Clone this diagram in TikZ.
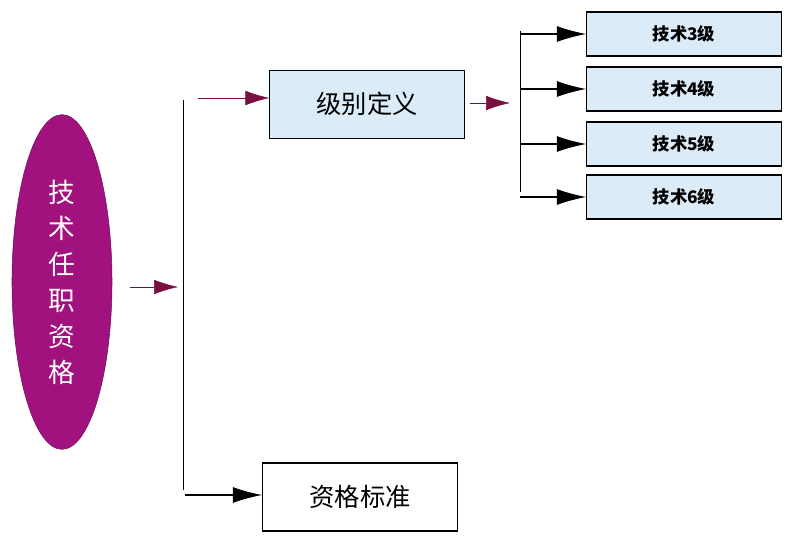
\documentclass[tikz,border=0pt]{standalone}
\usepackage{fontspec}
\setmainfont{Noto Sans CJK SC}
\usetikzlibrary{shapes.geometric,arrows.meta}
\definecolor{plum}{HTML}{A2127F}
\definecolor{wine}{HTML}{7A1040}
\definecolor{paleblue}{HTML}{DCEBF8}
\begin{document}
\begin{tikzpicture}[x=0.75pt,y=-0.75pt,
    mainnode/.style={ellipse, fill=plum, draw=plum!70!black, minimum width=75pt, minimum height=251pt, text=white, font=\fontsize{20}{27}\selectfont, align=center},
    bluenode/.style={rectangle, draw, fill=paleblue, minimum width=146pt, minimum height=51pt, font=\fontsize{19}{22}\selectfont},
    levelnode/.style={rectangle, draw, fill=paleblue, thick, minimum width=146pt, minimum height=33pt, font=\bfseries\fontsize{13}{15}\selectfont},
    whitenode/.style={rectangle, draw, thick, fill=white, minimum width=146pt, minimum height=51pt, font=\fontsize{19}{22}\selectfont},
    redarrow/.style={draw=wine, -{Latex[length=18pt,width=11pt]}},
    blackarrow/.style={draw=black, thick, -{Latex[length=22pt,width=12pt]}},
  ]
  \useasboundingbox (0,0) rectangle (800,545);
  %Nodes
  \node[mainnode] (root) at (62,282) {技\\术\\任\\职\\资\\格};
  \node[bluenode] (def) at (367,104) {级别定义};
  \node[whitenode] (std) at (360,497) {资格标准};
  \foreach \n/\y in {3/34,4/89,5/144,6/197}
    \node[levelnode] (lv\n) at (684,\y) {技术{\n}级};
  \coordinate (mainbar_top) at (183,100);
  \coordinate (mainbar_bot) at (183,490);
  \coordinate (mainbar_mid) at (178,287);
  \coordinate (lvbar_top) at (520,31);
  \coordinate (lvbar_bot) at (520,192);

  %Lines
  \draw (mainbar_top) -- (mainbar_bot);
  \draw (lvbar_top) -- (lvbar_bot);
  \draw[redarrow] (130,287) -- (mainbar_mid);
  \draw[redarrow] (198,98) -- (def.west |- 0,98);
  \draw[redarrow] (def.east |- 0,103) ++(5,0) -- (510,103);
  \draw[blackarrow] (185,495) -- (std.west |- 0,495);
  \foreach \n in {3,4,5,6}
    \draw[blackarrow] (lvbar_top |- lv\n) -- (lv\n.west);
\end{tikzpicture}
\end{document}
